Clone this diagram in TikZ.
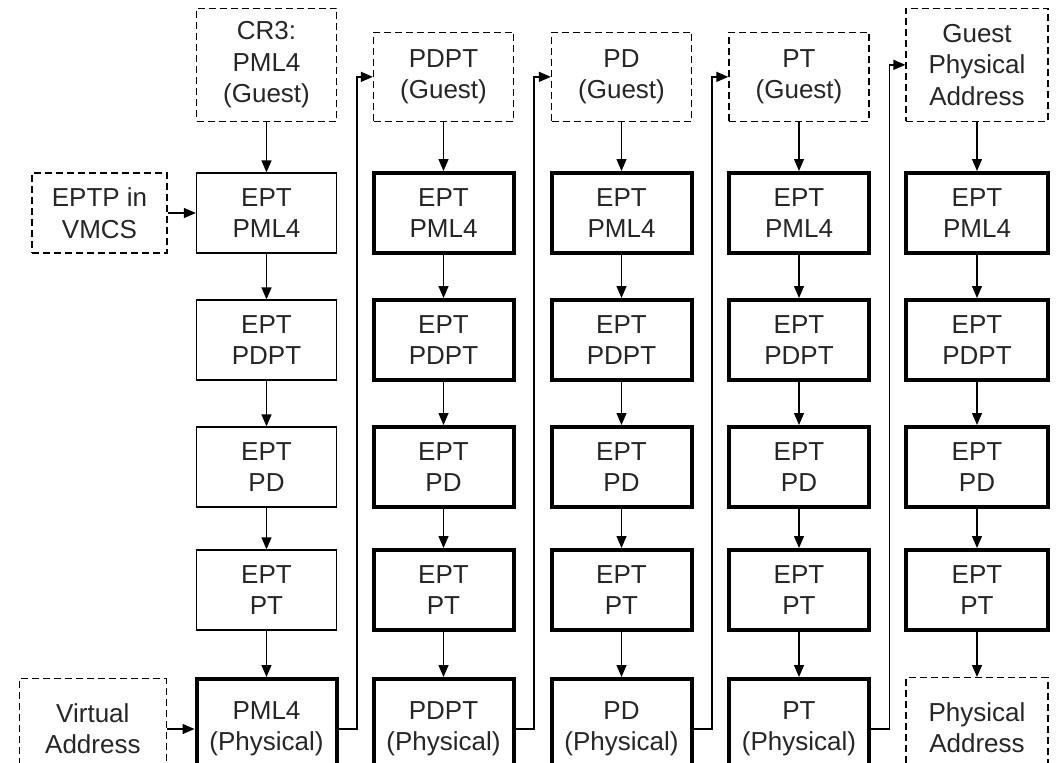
\documentclass[tikz,border=0pt]{standalone}
\usepackage{fontspec}
\setmainfont{Liberation Sans}
\usetikzlibrary{arrows.meta}

\begin{document}
\begin{tikzpicture}[x=0.5pt,y=-0.5pt,
  box/.style={draw,line width=0.65pt,minimum width=70pt,minimum height=40pt,inner sep=0pt,align=center,text=black!85,font=\fontsize{13}{15.7}\selectfont},
  thickbox/.style={box,line width=2pt},
  guestbox/.style={box,dash pattern=on 3.5pt off 2pt},
  arr/.style={line width=0.65pt,-{Triangle[length=6pt,width=5pt]}}]
\useasboundingbox (0,0) rectangle (1061,762);
\node[guestbox,minimum height=56.5pt,anchor=south] (cr3) at (266.5,122) {CR3:\\PML4\\(Guest)};
\node[guestbox,minimum height=44.5pt,anchor=south] (pdptg) at (443.5,122) {PDPT\\(Guest)};
\node[guestbox,minimum height=44.5pt,anchor=south] (pdg) at (621.5,122) {PD\\(Guest)};
\node[guestbox,minimum height=44.5pt,anchor=south] (ptg) at (799,122) {PT\\(Guest)};
\node[guestbox,minimum height=56.5pt,minimum width=71pt,anchor=south] (gpa) at (977,122) {Guest\\Physical\\Address};
\node[guestbox,minimum width=67.5pt] (eptp) at (99.5,213) {EPTP in\\VMCS};
\node[guestbox,minimum width=73.5pt,minimum height=50pt,anchor=north east] (va) at (167,678) {Virtual\\Address};
\node[box] (c1pml4) at (266.5,213) {EPT\\PML4};
\node[box] (c1pdpt) at (266.5,340) {EPT\\PDPT};
\node[box] (c1pd) at (266.5,467) {EPT\\PD};
\node[box] (c1pt) at (266.5,590) {EPT\\PT};
\node[thickbox,minimum height=50pt,anchor=north] (c1phys) at (266.5,677) {PML4\\(Physical)};
\node[thickbox] (c2pml4) at (443.5,213) {EPT\\PML4};
\node[thickbox] (c2pdpt) at (443.5,340) {EPT\\PDPT};
\node[thickbox] (c2pd) at (443.5,467) {EPT\\PD};
\node[thickbox] (c2pt) at (443.5,590) {EPT\\PT};
\node[thickbox,minimum height=50pt,anchor=north] (c2phys) at (443.5,677) {PDPT\\(Physical)};
\node[thickbox] (c3pml4) at (621.5,213) {EPT\\PML4};
\node[thickbox] (c3pdpt) at (621.5,340) {EPT\\PDPT};
\node[thickbox] (c3pd) at (621.5,467) {EPT\\PD};
\node[thickbox] (c3pt) at (621.5,590) {EPT\\PT};
\node[thickbox,minimum height=50pt,anchor=north] (c3phys) at (621.5,677) {PD\\(Physical)};
\node[thickbox] (c4pml4) at (799,213) {EPT\\PML4};
\node[thickbox] (c4pdpt) at (799,340) {EPT\\PDPT};
\node[thickbox] (c4pd) at (799,467) {EPT\\PD};
\node[thickbox] (c4pt) at (799,590) {EPT\\PT};
\node[thickbox,minimum height=50pt,anchor=north] (c4phys) at (799,677) {PT\\(Physical)};
\node[thickbox,minimum width=71pt] (c5pml4) at (977,213) {EPT\\PML4};
\node[thickbox,minimum width=71pt] (c5pdpt) at (977,340) {EPT\\PDPT};
\node[thickbox,minimum width=71pt] (c5pd) at (977,467) {EPT\\PD};
\node[thickbox,minimum width=71pt] (c5pt) at (977,590) {EPT\\PT};
\node[guestbox,minimum width=71pt,minimum height=50pt,anchor=north] (pa) at (977,677) {Physical\\Address};
\draw[arr] (eptp) -- (c1pml4);
\draw[arr] (va.east |- c1phys) -- (c1phys);
\draw[arr] (cr3) -- (c1pml4);
\draw[arr] (c1pml4) -- (c1pdpt);
\draw[arr] (c1pdpt) -- (c1pd);
\draw[arr] (c1pd) -- (c1pt);
\draw[arr] (c1pt) -- (c1phys);
\draw[arr] (pdptg) -- (c2pml4);
\draw[arr] (c2pml4) -- (c2pdpt);
\draw[arr] (c2pdpt) -- (c2pd);
\draw[arr] (c2pd) -- (c2pt);
\draw[arr] (c2pt) -- (c2phys);
\draw[arr] (pdg) -- (c3pml4);
\draw[arr] (c3pml4) -- (c3pdpt);
\draw[arr] (c3pdpt) -- (c3pd);
\draw[arr] (c3pd) -- (c3pt);
\draw[arr] (c3pt) -- (c3phys);
\draw[arr] (ptg) -- (c4pml4);
\draw[arr] (c4pml4) -- (c4pdpt);
\draw[arr] (c4pdpt) -- (c4pd);
\draw[arr] (c4pd) -- (c4pt);
\draw[arr] (c4pt) -- (c4phys);
\draw[arr] (gpa) -- (c5pml4);
\draw[arr] (c5pml4) -- (c5pdpt);
\draw[arr] (c5pdpt) -- (c5pd);
\draw[arr] (c5pd) -- (c5pt);
\draw[arr] (c5pt) -- (pa);
\draw[arr] (c1phys.east) -- ++(18.5,0) |- (pdptg.west);
\draw[arr] (c2phys.east) -- ++(18.5,0) |- (pdg.west);
\draw[arr] (c3phys.east) -- ++(18.5,0) |- (ptg.west);
\draw[arr] (c4phys.east) -- ++(18.5,0) |- (gpa.west);
\end{tikzpicture}
\end{document}
